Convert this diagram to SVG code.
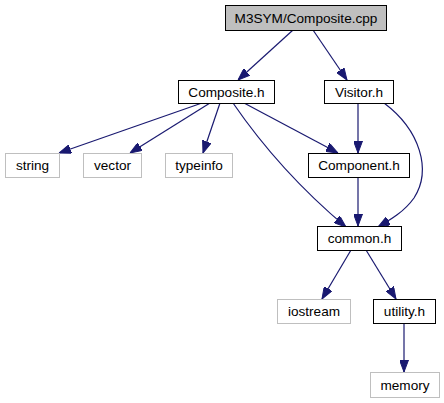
<svg xmlns="http://www.w3.org/2000/svg" width="444" height="403" viewBox="0 0 444 403">
<style>
.n rect{fill:#fff;stroke:#000;stroke-width:1}
.x rect{fill:#fff;stroke:#bfbfbf;stroke-width:1}
#root rect{fill:#bfbfbf}
text{font-family:"Liberation Sans",Arial,sans-serif;font-size:13.6px;text-anchor:middle;fill:#000}
.e path{fill:none;stroke:#191970;stroke-width:1.2;marker-end:url(#a)}
</style>
<defs>
<marker id="a" viewBox="0 0 12 9" refX="12" refY="4.5" markerWidth="12" markerHeight="9" markerUnits="userSpaceOnUse" orient="auto">
<path d="M0,0 L12,4.5 L0,9 z" fill="#191970" stroke="#191970" stroke-width="1"/>
</marker>
</defs>
<g class="e">
<path d="M293,30 L238,80"/>
<path d="M313,30 L347,80"/>
<path d="M202,103 L59,153"/>
<path d="M210,103 L130,153"/>
<path d="M220,103 L203,153"/>
<path d="M244,103 L338,153"/>
<path d="M233,103 C255,135 290,180 346,227"/>
<path d="M358,103 L358,153"/>
<path d="M384,103 C420,130 432,170 414,198 C404,212 390,220 378,227"/>
<path d="M358,177 L358,226"/>
<path d="M351,250 L322,299"/>
<path d="M366,250 L396,299"/>
<path d="M404,323 L404,372"/>
</g>
<g id="root" class="n"><rect x="225.5" y="5.5" width="161" height="25"/><text x="306" y="22.5">M3SYM/Composite.cpp</text></g>
<g id="composite_h" class="n"><rect x="178.5" y="80.5" width="96" height="23"/><text x="226.5" y="96.5">Composite.h</text></g>
<g id="visitor_h" class="n"><rect x="324.5" y="80.5" width="69" height="23"/><text x="359" y="96.5">Visitor.h</text></g>
<g id="string" class="x"><rect x="5.5" y="153.5" width="54" height="24"/><text x="32.5" y="170">string</text></g>
<g id="vector" class="x"><rect x="83.5" y="153.5" width="58" height="24"/><text x="112.5" y="170">vector</text></g>
<g id="typeinfo" class="x"><rect x="165.5" y="153.5" width="67" height="24"/><text x="199" y="170">typeinfo</text></g>
<g id="component_h" class="n"><rect x="308.5" y="153.5" width="101" height="24"/><text x="359" y="170">Component.h</text></g>
<g id="common_h" class="n"><rect x="317.5" y="226.5" width="84" height="24"/><text x="359.5" y="243">common.h</text></g>
<g id="iostream" class="x"><rect x="277.5" y="299.5" width="73" height="24"/><text x="314" y="316">iostream</text></g>
<g id="utility_h" class="n"><rect x="373.5" y="299.5" width="62" height="24"/><text x="404.5" y="316">utility.h</text></g>
<g id="memory" class="x"><rect x="370.5" y="372.5" width="69" height="25"/><text x="405" y="389.5">memory</text></g>
</svg>
